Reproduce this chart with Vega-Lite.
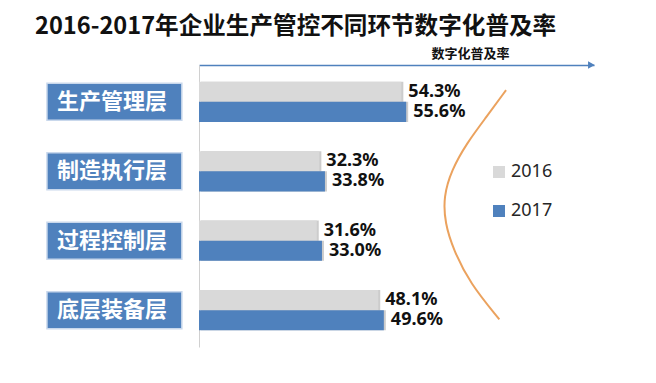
{
  "$schema": "https://vega.github.io/schema/vega-lite/v6.json",
  "width": 395,
  "height": 282,
  "autosize": {"type": "none"},
  "padding": {"left": 199, "top": 65, "right": 62, "bottom": 36},
  "background": "white",
  "config": {"view": {"stroke": null}, "font": "Noto Sans CJK SC"},
  "title": {
    "text": "2016-2017年企业生产管控不同环节数字化普及率",
    "anchor": "start",
    "frame": "group",
    "dx": -164,
    "offset": -11,
    "baseline": "alphabetic",
    "fontSize": 23.6,
    "fontWeight": "bold",
    "font": "Noto Sans CJK SC",
    "color": "#111111"
  },
  "datasets": {
    "bars": [
      {"category": "生产管理层", "year": "2016", "value": 54.3, "label": "54.3%"},
      {"category": "生产管理层", "year": "2017", "value": 55.6, "label": "55.6%"},
      {"category": "制造执行层", "year": "2016", "value": 32.3, "label": "32.3%"},
      {"category": "制造执行层", "year": "2017", "value": 33.8, "label": "33.8%"},
      {"category": "过程控制层", "year": "2016", "value": 31.6, "label": "31.6%"},
      {"category": "过程控制层", "year": "2017", "value": 33.0, "label": "33.0%"},
      {"category": "底层装备层", "year": "2016", "value": 48.1, "label": "48.1%"},
      {"category": "底层装备层", "year": "2017", "value": 49.6, "label": "49.6%"}
    ],
    "cats": [
      {"category": "生产管理层"},
      {"category": "制造执行层"},
      {"category": "过程控制层"},
      {"category": "底层装备层"}
    ],
    "curve": [
      {"i": 1, "cx": 82.4, "cy": 8.9},
      {"i": 2, "cx": 77.2, "cy": 18.3},
      {"i": 3, "cx": 71.8, "cy": 27.8},
      {"i": 4, "cx": 67.8, "cy": 37.2},
      {"i": 5, "cx": 65.6, "cy": 46.7},
      {"i": 6, "cx": 66.0, "cy": 56.1},
      {"i": 7, "cx": 68.3, "cy": 65.6},
      {"i": 8, "cx": 72.7, "cy": 77.4},
      {"i": 9, "cx": 80.6, "cy": 90.2}
    ],
    "arrow": [{"tip": 105.3, "top": 0}]
  },
  "layer": [
    {
      "layer": [
        {
          "data": {"name": "cats"},
          "mark": {"type": "bar", "color": "#4F81BD", "height": 37, "stroke": "#C9D8EC", "strokeWidth": 1.5},
          "encoding": {
            "y": {"field": "category", "type": "nominal", "title": null,
                  "scale": {"domain": ["生产管理层", "制造执行层", "过程控制层", "底层装备层"], "paddingInner": 0.42, "paddingOuter": 0.24}},
            "x": {"datum": -40.8, "type": "quantitative", "scale": {"domain": [0, 106], "nice": false, "zero": false}},
            "x2": {"datum": -4.6}
          }
        },
        {
          "data": {"name": "cats"},
          "mark": {"type": "text", "align": "left", "baseline": "middle", "color": "white", "fontSize": 22, "fontWeight": "bold", "font": "Noto Sans CJK SC"},
          "encoding": {
            "y": {"field": "category", "type": "nominal", "title": null},
            "x": {"datum": -38.1, "type": "quantitative"},
            "text": {"field": "category"}
          }
        },
        {
          "data": {"name": "bars"},
          "mark": {"type": "bar", "color": "#000000", "opacity": 0.2, "xOffset": 2, "yOffset": 2},
          "encoding": {
            "y": {"field": "category", "type": "nominal", "title": null},
            "yOffset": {"field": "year", "type": "nominal"},
            "x": {"field": "value", "type": "quantitative", "title": "数字化普及率"}
          }
        },
        {
          "data": {"name": "bars"},
          "mark": {"type": "bar"},
          "encoding": {
            "y": {"field": "category", "type": "nominal", "title": null,
                  "axis": {"orient": "left", "domain": true, "domainColor": "#D0D0D0", "domainWidth": 1, "ticks": false, "labels": false, "grid": false, "title": null}},
            "yOffset": {"field": "year", "type": "nominal", "scale": {"paddingInner": 0, "paddingOuter": 0}},
            "x": {"field": "value", "type": "quantitative", "title": "数字化普及率",
                  "scale": {"domain": [0, 106], "nice": false, "zero": false},
                  "axis": {"orient": "top", "domain": true, "domainColor": "#4F81BD", "domainWidth": 1.5, "ticks": false, "labels": false, "grid": false,
                           "title": "数字化普及率", "titleFontSize": 13, "titleFontWeight": "bold", "titleFont": "Noto Sans CJK SC", "titleColor": "#111111",
                           "titleX": 271, "titleY": -8, "titleAlign": "center", "titleBaseline": "alphabetic", "titleAnchor": null}},
            "color": {"field": "year", "type": "nominal",
                      "scale": {"domain": ["2016", "2017"], "range": ["#D9D9D9", "#4F81BD"]},
                      "legend": {"orient": "none", "legendX": 291, "legendY": 98, "title": null, "symbolType": "square", "symbolSize": 144, "symbolStrokeWidth": 0,
                                 "labelFontSize": 18, "labelFont": "Noto Sans", "labelColor": "#262626", "rowPadding": 21, "labelOffset": 3, "padding": 0}}
          }
        },
        {
          "data": {"name": "bars"},
          "mark": {"type": "text", "align": "left", "baseline": "middle", "dx": 7, "fontSize": 18, "fontWeight": "bold", "font": "Noto Sans", "color": "#111111"},
          "encoding": {
            "y": {"field": "category", "type": "nominal", "title": null},
            "yOffset": {"field": "year", "type": "nominal"},
            "x": {"field": "value", "type": "quantitative", "title": "数字化普及率"},
            "text": {"field": "label"}
          }
        }
      ]
    },
    {
      "layer": [
        {
          "data": {"name": "curve"},
          "mark": {"type": "line", "color": "#EBA25E", "strokeWidth": 2, "interpolate": "basis"},
          "encoding": {
            "x": {"field": "cx", "type": "quantitative", "title": "数字化普及率"},
            "y": {"field": "cy", "type": "quantitative", "axis": null, "scale": {"domain": [0, 100], "reverse": true, "nice": false, "zero": false}},
            "order": {"field": "i"}
          }
        },
        {
          "data": {"name": "arrow"},
          "mark": {"type": "point", "shape": "triangle-right", "filled": true, "size": 60, "color": "#4F81BD", "opacity": 1},
          "encoding": {
            "x": {"field": "tip", "type": "quantitative", "title": "数字化普及率"},
            "y": {"field": "top", "type": "quantitative", "axis": null}
          }
        }
      ]
    }
  ],
  "resolve": {"scale": {"y": "independent"}}
}
